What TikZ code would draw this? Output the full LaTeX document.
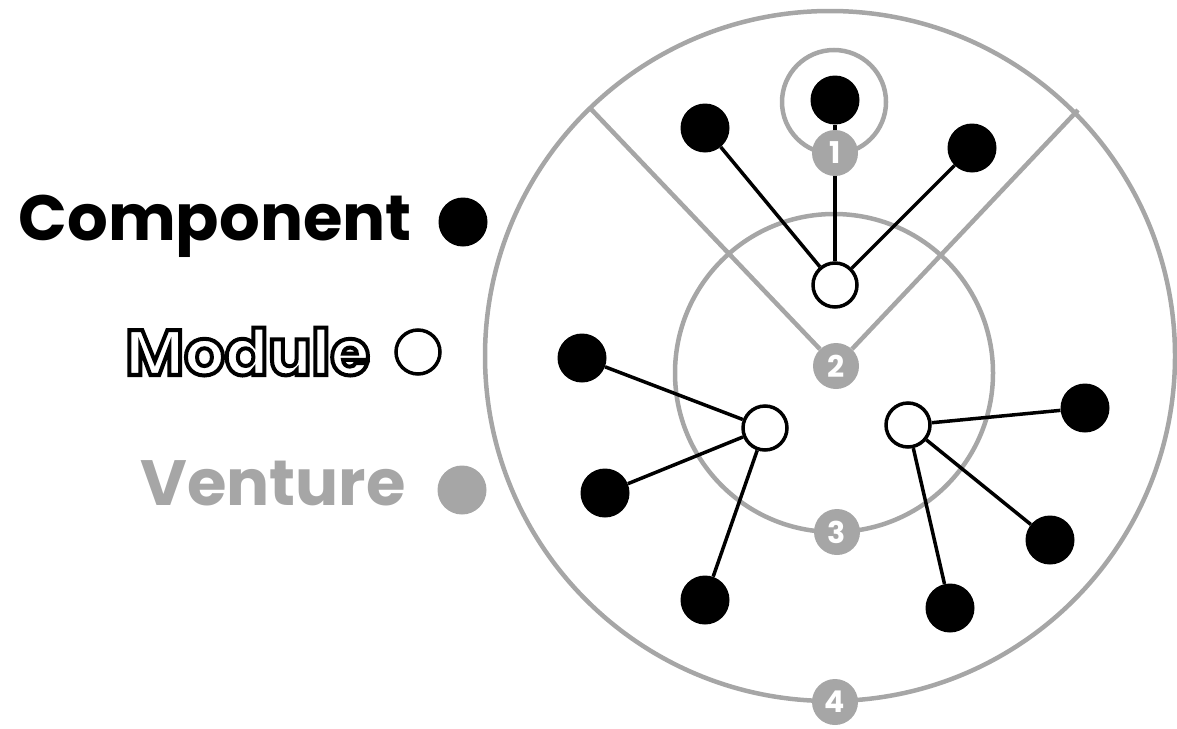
\documentclass[tikz,border=0pt]{standalone}
\usepackage{fontspec}
\setmainfont{Poppins}
\definecolor{venture}{HTML}{A6A6A6}
% hollow letters: white fill, black stroke
\newcommand{\hollow}[1]{{\color{white}\special{pdf:literal direct 2 Tr 4 w 0 G}#1\special{pdf:literal direct 0 Tr}}}
\begin{document}
\begin{tikzpicture}[x=1pt, y=-1pt,
    ring/.style={draw=venture, line width=4.5pt},
    comp/.style={circle, fill=black, minimum size=49pt, inner sep=0pt},
    modu/.style={circle, draw=black, fill=white, line width=3.5pt, minimum size=44pt, inner sep=0pt},
    badge/.style={circle, fill=venture, text=white, minimum size=46pt, inner sep=0pt, font=\bfseries\fontsize{30}{30}\selectfont},
    link/.style={draw=black, line width=3.5pt},
    legend/.style={anchor=base east, inner sep=0pt, font=\bfseries\fontsize{64}{64}\selectfont}]
\useasboundingbox (0,0) rectangle (1177,728);
% rings of the venture
\draw[ring] (830,356) circle[radius=345];
\draw[ring] (834,373) circle[radius=159];
\draw[ring] (834,102) circle[radius=52];
\coordinate (wl) at (590,108);
\coordinate (wr) at (1078,110);
% modules and components
\node[modu] (mtop) at (835,285) {};
\node[modu] (mleft) at (765,428) {};
\node[modu] (mright) at (908,425) {};
\node[comp] (t1) at (705,128) {};
\node[comp] (t2) at (835,100) {};
\node[comp] (t3) at (972,148) {};
\node[comp] (l1) at (582,358) {};
\node[comp] (l2) at (605,493) {};
\node[comp] (l3) at (705,600) {};
\node[comp] (r1) at (1085,408) {};
\node[comp] (r2) at (1050,540) {};
\node[comp] (r3) at (950,608) {};
\foreach \c in {t1,t2,t3} \draw[link] (mtop) -- (\c);
\foreach \c in {l1,l2,l3} \draw[link] (mleft) -- (\c);
\foreach \c in {r1,r2,r3} \draw[link] (mright) -- (\c);
% numbered badges
\node[badge] (b1) at (835,153) {1};
\node[badge] (b2) at (836,366) {2};
\node[badge] (b3) at (837,532) {3};
\node[badge] (b4) at (835,702) {4};
\draw[ring] (wl) -- (b2) -- (wr);
% legend
\node[legend] (comptxt) at (412,240) {Component};
\node[comp] (compdot) at (463,222) {};
\node[legend] (modtxt) at (370,375) {\hollow{Module}};
\node[modu] (moddot) at (418,352) {};
\node[legend, text=venture] (ventxt) at (406,505) {Venture};
\node[comp, fill=venture] (vendot) at (462,490) {};
\end{tikzpicture}
\end{document}
